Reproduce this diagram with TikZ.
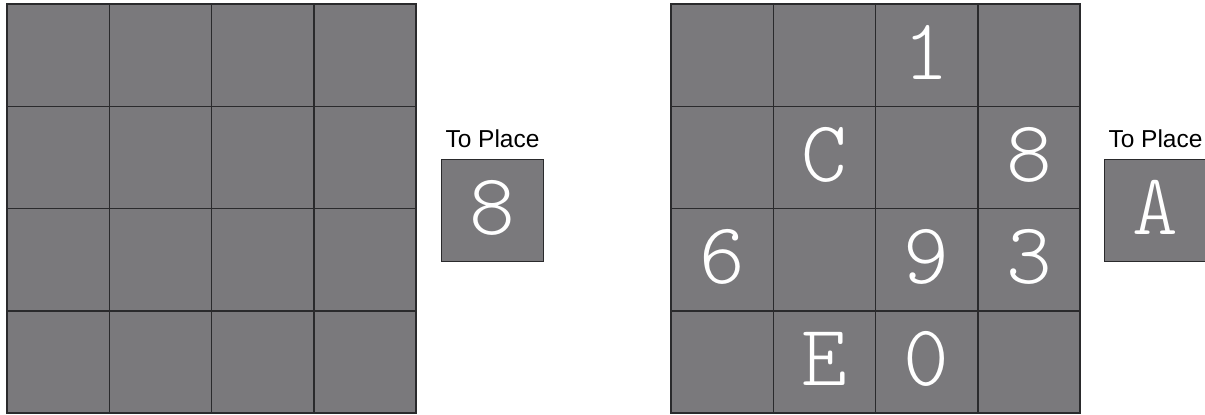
\documentclass[tikz,border=0pt]{standalone}
\usepackage{fontspec}
\setmainfont{Liberation Sans}
\newfontfamily\glyphfont{lmmonolt10-regular.otf}
\definecolor{cellgray}{HTML}{7A797C}
\definecolor{linegray}{HTML}{2A2A2C}
\begin{document}
\begin{tikzpicture}[x=1pt,y=-1pt,
  cell/.style={draw=linegray,line width=1.5pt,fill=cellgray,minimum size=102.25pt,inner sep=0pt,
    text=white,text depth=6pt,font=\glyphfont\fontsize{87}{87}\selectfont},
  lbl/.style={font=\fontsize{24.5}{25}\selectfont,text=black,inner sep=0pt,anchor=base}]
\useasboundingbox (0,0) rectangle (1205,415);
% left grid
\foreach \r in {0,...,3}{
  \foreach \c in {0,...,3}{
    \node[cell] (L\r\c) at ({7+102.25*(\c+0.5)},{4+102.25*(\r+0.5)}) {};
  }
}
% right grid
\foreach \r/\c/\t in {0/0/,0/1/,0/2/1,0/3/,1/0/,1/1/C,1/2/,1/3/8,2/0/6,2/1/,2/2/9,2/3/3,3/0/,3/1/E,3/2/0,3/3/}{
  \node[cell] (R\r\c) at ({671+102.25*(\c+0.5)},{4+102.25*(\r+0.5)}) {\t};
}
% to place boxes
\node[cell] (P1) at (492.5,210.5) {8};
\node[lbl] (T1) at (492.5,147) {To Place};
\node[cell] (P2) at (1155.5,210.5) {A};
\node[lbl] (T2) at (1155.5,147) {To Place};
\end{tikzpicture}
\end{document}
